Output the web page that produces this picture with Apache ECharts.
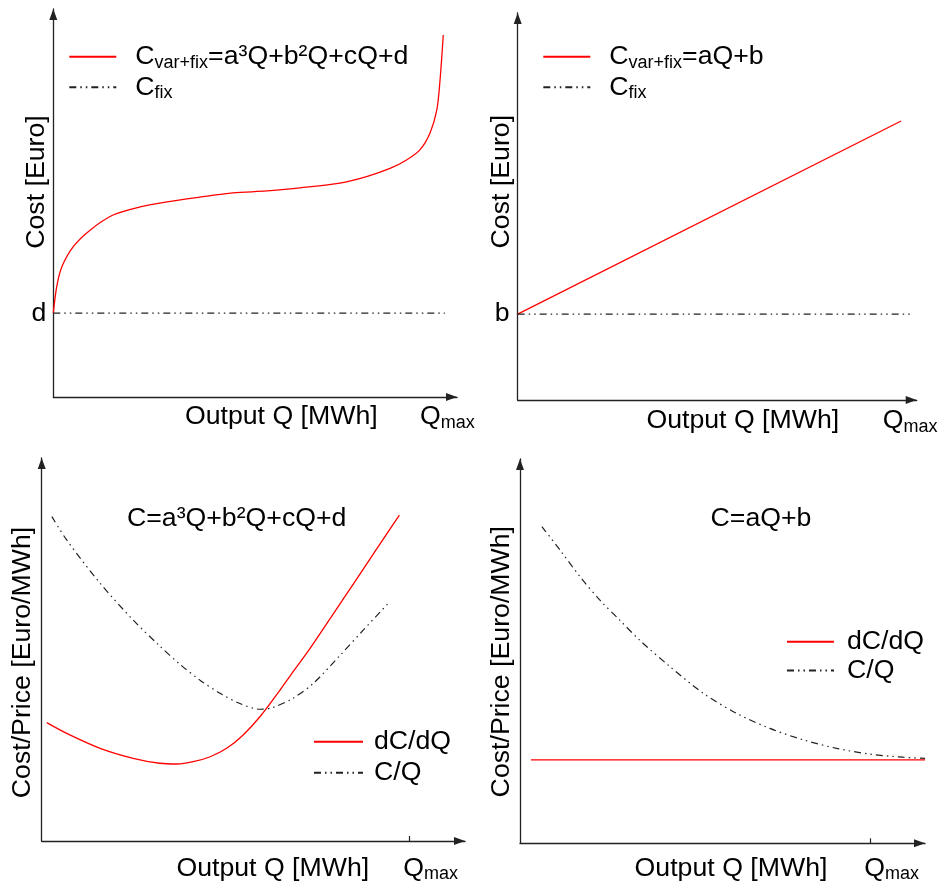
<!DOCTYPE html>
<html><head><meta charset="utf-8">
<script src="https://cdn.jsdelivr.net/npm/echarts@6/dist/echarts.min.js"></script>
<style>html,body{margin:0;padding:0;background:#fff}#c{width:941px;height:888px}</style>
</head><body><div id="c"></div>
<script>
// ---- data (x: share of drawn axis length, y: share of axis height) ----
const tlQ    = [0,0.84,2.1,4.9,9.1,14.8,21.5,28.2,36.3,44.5,52.9,61.1,71.0,77.6,83.4,87.5,90.8,93.3,95.0,95.8,96.6];
const tlCost = [21.6,28.4,33.5,38.7,43.0,46.9,49.0,50.3,51.5,52.6,53.1,53.9,55.1,56.8,58.9,61.1,63.7,68.0,74.0,81.7,93.3];
const tlFixQ = [0, 97];
const tlFix  = [21.6, 21.6];

const trQ    = [0, 96.1];
const trCost = [22.2, 72.1];
const trFixQ = [0, 98.7];
const trFix  = [22.2, 22.2];

const blMargQ = [1.2,5.9,13.8,21.6,27.9,31.9,35.8,39.8,43.7,47.6,51.6,56.3,59.4,63.4,68.1,74.4,79.1,84.5];
const blMarg  = [30.9,28.1,24.2,21.6,20.3,20.1,20.7,22.0,24.2,27.7,32.5,39.4,44.2,50.3,58.0,68.4,76.2,85.1];
const blAvgQ  = [2.4,5.9,13.8,21.6,27.9,32.7,37.4,42.1,46.8,51.6,54.7,59.4,64.2,70.5,76.0,81.9];
const blAvg   = [84.7,78.6,67.3,57.7,50.9,46.1,42.0,38.6,35.9,34.4,34.9,37.3,41.2,48.5,55.1,62.1];
const blQmax  = 86.8;

const brMargQ = [2.7, 100];
const brMarg  = [21.7, 21.7];
const brAvgQ  = [5.4,9.9,14.8,19.8,24.7,29.6,37.0,45.3,53.5,61.7,70.0,78.2,86.4,94.6,100];
const brAvg   = [82.4,76.3,69.4,63.2,58.0,52.8,46.0,39.0,33.8,29.9,26.9,24.7,23.2,22.4,22.1];
const brQmax  = 86.4;

const nameTL  = 'Cvar+fix=a³Q+b²Q+cQ+d';
const nameTR  = 'Cvar+fix=aQ+b';
const nameFix = 'Cfix';
const nameMarg = 'dC/dQ';
const nameAvg  = 'C/Q';
const titleBL = 'C=a³Q+b²Q+cQ+d';
const titleBR = 'C=aQ+b';
const yNameTop = 'Cost [Euro]';
const yNameBot = 'Cost/Price [Euro/MWh]';
const xName = 'Output Q [MWh]';
const fixTL = 'd', fixTR = 'b';

// ---- styling ----
const FF = '"Liberation Sans", Arial, sans-serif';
const FS = 26.7;
const RED = '#ff0000';
const DASH = [7, 4, 1.5, 4, 1.5, 4];
const AX = '#222';
const zip = (a, b) => a.map((v, i) => [v, b[i]]);

const richOpt = {
  C: {fontSize: FS, lineHeight: 30, fontFamily: FF, color: '#000'},
  s: {fontSize: 18, lineHeight: 11, verticalAlign: 'bottom', fontFamily: FF, color: '#000'},
  n: {fontSize: FS, lineHeight: 30, fontFamily: FF, color: '#000'}
};
const richG = {
  C: {fontSize: FS, lineHeight: 30, fontFamily: FF, fill: '#000'},
  s: {fontSize: 18, lineHeight: 11, verticalAlign: 'bottom', fontFamily: FF, fill: '#000'},
  n: {fontSize: FS, lineHeight: 30, fontFamily: FF, fill: '#000'}
};
function legendFmt(name) {
  if (name.indexOf('Cvar+fix') === 0) return '{C|C}{s|var+fix}{n|' + name.slice(8) + '}';
  if (name === 'Cfix') return '{C|C}{s|fix}';
  return '{n|' + name + '}';
}

const grids = [
  {left: 53.3, top: 9, width: 403.7, height: 388},
  {left: 517.7, top: 13, width: 399, height: 387},
  {left: 41.7, top: 458, width: 423.3, height: 383},
  {left: 520, top: 459, width: 405, height: 384.3}
];
const axLine = {show: true, lineStyle: {color: AX, width: 1.3}, symbol: ['none', 'triangle'], symbolSize: [8, 11], symbolOffset: [0, -5.5]};

function xAx(i, qmax) {
  return {type: 'value', gridIndex: i, min: 0, max: 100, splitLine: {show: false},
    axisLine: axLine,
    axisTick: qmax == null ? {show: false} : {show: true, customValues: [qmax], inside: true, length: 5, lineStyle: {color: AX, width: 1.2}},
    axisLabel: {show: false}};
}
function yAx(i, fixVal, fixLabel, margin) {
  return {type: 'value', gridIndex: i, min: 0, max: 100, splitLine: {show: false},
    axisLine: axLine, axisTick: {show: false},
    axisLabel: fixVal == null ? {show: false} : {show: true, customValues: [fixVal], formatter: () => fixLabel,
      fontSize: FS, fontFamily: FF, color: '#000', margin: margin}};
}

function lineS(name, xi, data, red, smooth) {
  return {type: 'line', name: name, xAxisIndex: xi, yAxisIndex: xi, data: data, symbol: 'none', showSymbol: false,
    smooth: smooth || false, silent: true,
    lineStyle: red ? {color: RED, width: 1.3} : {color: '#222', width: 1.2, type: DASH},
    itemStyle: {color: red ? RED : '#222'}};
}

function legend(names, left, top, gap, w, pad) {
  return {data: names, orient: 'vertical', left: left, top: top, padding: 0, itemGap: gap,
    itemWidth: w, itemHeight: 14, selectedMode: false, formatter: legendFmt,
    itemStyle: {opacity: 0},
    textStyle: {fontSize: FS, fontFamily: FF, color: '#000', padding: [0, 0, 0, pad], rich: richOpt}};
}

function gtext(x, y, text, align, rot) {
  return {type: 'text', x: x, y: y, rotation: rot || 0, silent: true,
    style: {text: text, fontSize: FS, fontFamily: FF, fill: '#000', align: align || 'center', verticalAlign: 'middle', rich: richG}};
}
const qmaxText = '{C|Q}{s|max}';

const option = {
  animation: false,
  backgroundColor: '#fff',
  grid: grids,
  xAxis: [xAx(0), xAx(1), xAx(2, blQmax), xAx(3, brQmax)],
  yAxis: [yAx(0, tlFix[0], fixTL, 7), yAx(1, trFix[0], fixTR, 8), yAx(2), yAx(3)],
  legend: [
    legend([nameTL, nameFix], 68.3, 43.3, 2, 47, 14),
    legend([nameTR, nameFix], 542.3, 43.3, 2, 47, 14),
    legend([nameMarg, nameAvg], 313, 728.3, 4, 49, 6),
    legend([nameMarg, nameAvg], 786, 628.3, 1.7, 47, 8)
  ],
  series: [
    lineS(nameTL, 0, zip(tlQ, tlCost), true, 0.3),
    lineS(nameFix, 0, zip(tlFixQ, tlFix), false),
    lineS(nameTR, 1, zip(trQ, trCost), true),
    lineS(nameFix, 1, zip(trFixQ, trFix), false),
    lineS(nameMarg, 2, zip(blMargQ, blMarg), true, 0.3),
    lineS(nameAvg, 2, zip(blAvgQ, blAvg), false, 0.3),
    lineS(nameMarg, 3, zip(brMargQ, brMarg), true),
    lineS(nameAvg, 3, zip(brAvgQ, brAvg), false, 0.3)
  ],
  graphic: [
    gtext(37, 182, yNameTop, 'center', Math.PI / 2),
    gtext(501.7, 181.7, yNameTop, 'center', Math.PI / 2),
    gtext(23, 662.5, yNameBot, 'center', Math.PI / 2),
    gtext(501.7, 661.7, yNameBot, 'center', Math.PI / 2),
    gtext(281.3, 416.7, xName),
    gtext(742.8, 420.7, xName),
    gtext(272.8, 868.3, xName),
    gtext(731, 868.3, xName),
    gtext(420, 416.7, qmaxText, 'left'),
    gtext(882.7, 420.7, qmaxText, 'left'),
    gtext(403.3, 868.3, qmaxText, 'left'),
    gtext(864.3, 868.3, qmaxText, 'left'),
    gtext(236.7, 519, titleBL),
    gtext(761, 519, titleBR)
  ]
};
const chart = echarts.init(document.getElementById('c'), null, {renderer: 'canvas'});
chart.setOption(option);
</script></body></html>
